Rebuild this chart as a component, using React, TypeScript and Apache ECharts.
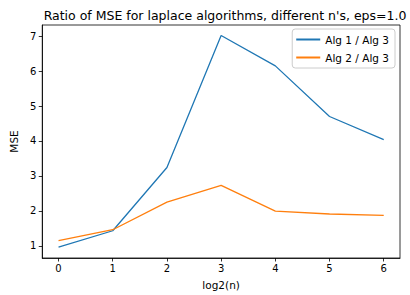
import React, { useEffect, useRef } from "react";
import * as echarts from "echarts";

const xValues = [0, 1, 2, 3, 4, 5, 6];
const alg1 = [0.96, 1.43, 3.24, 7.02, 6.15, 4.7, 4.04];
const alg2 = [1.15, 1.46, 2.25, 2.73, 1.99, 1.91, 1.87];
const xTicks = [0, 1, 2, 3, 4, 5, 6];
const yTicks = [1, 2, 3, 4, 5, 6, 7];
const seriesNames = ["Alg 1 / Alg 3", "Alg 2 / Alg 3"];

const FONT = "DejaVu Sans";

export default function App() {
  const ref = useRef<HTMLDivElement>(null);
  useEffect(() => {
    const chart = echarts.init(ref.current!, null, { renderer: "svg" });
    chart.setOption({
      animation: false,
      backgroundColor: "#fff",
      title: {
        text: "Ratio of MSE for laplace algorithms, different n's, eps=1.0",
        left: 220,
        textAlign: "center",
        top: 4,
        textStyle: { fontFamily: FONT, fontSize: 12.5, fontWeight: "normal", color: "#000" },
      },
      grid: {
        left: 42,
        right: 10,
        top: 25,
        bottom: 37,
        show: true,
        borderColor: "#000",
        borderWidth: 0.8,
        backgroundColor: "transparent",
      },
      legend: {
        orient: "vertical",
        right: 15,
        top: 29,
        itemWidth: 24,
        itemHeight: 2,
        itemGap: 7,
        padding: [5, 6, 5, 4],
        borderColor: "#ccc",
        borderWidth: 1,
        borderRadius: 3,
        backgroundColor: "rgba(255,255,255,0.8)",
        icon: "rect",
        textStyle: { fontFamily: FONT, fontSize: 10.5, color: "#000" },
        data: seriesNames,
      },
      xAxis: {
        type: "value",
        min: -0.3,
        max: 6.3,
        name: "log2(n)",
        nameLocation: "middle",
        nameGap: 21,
        nameTextStyle: { fontFamily: FONT, fontSize: 10.5, color: "#000" },
        axisLine: { show: true, onZero: false, lineStyle: { color: "#000", width: 0.8 } },
        axisTick: { show: true, customValues: xTicks, length: 3.5, lineStyle: { color: "#000", width: 0.8 } },
        axisLabel: { customValues: xTicks, fontFamily: FONT, fontSize: 10, color: "#000", margin: 5 },
        splitLine: { show: false },
      },
      yAxis: {
        type: "value",
        min: 0.65,
        max: 7.32,
        name: "MSE",
        nameLocation: "middle",
        nameGap: 23,
        nameTextStyle: { fontFamily: FONT, fontSize: 10.5, color: "#000" },
        axisLine: { show: true, onZero: false, lineStyle: { color: "#000", width: 0.8 } },
        axisTick: { show: true, customValues: yTicks, length: 3.5, lineStyle: { color: "#000", width: 0.8 } },
        axisLabel: { customValues: yTicks, fontFamily: FONT, fontSize: 10, color: "#000", margin: 6 },
        splitLine: { show: false },
      },
      series: [
        {
          name: seriesNames[0],
          type: "line",
          data: xValues.map((x, i) => [x, alg1[i]]),
          showSymbol: false,
          symbol: "none",
          lineStyle: { color: "#1f77b4", width: 1.3 },
          itemStyle: { color: "#1f77b4" },
        },
        {
          name: seriesNames[1],
          type: "line",
          data: xValues.map((x, i) => [x, alg2[i]]),
          showSymbol: false,
          symbol: "none",
          lineStyle: { color: "#ff7f0e", width: 1.3 },
          itemStyle: { color: "#ff7f0e" },
        },
      ],
    });
    return () => chart.dispose();
  }, []);
  return <div ref={ref} style={{ width: 410, height: 295, position: "absolute", left: 0, top: 0 }} />;
}
